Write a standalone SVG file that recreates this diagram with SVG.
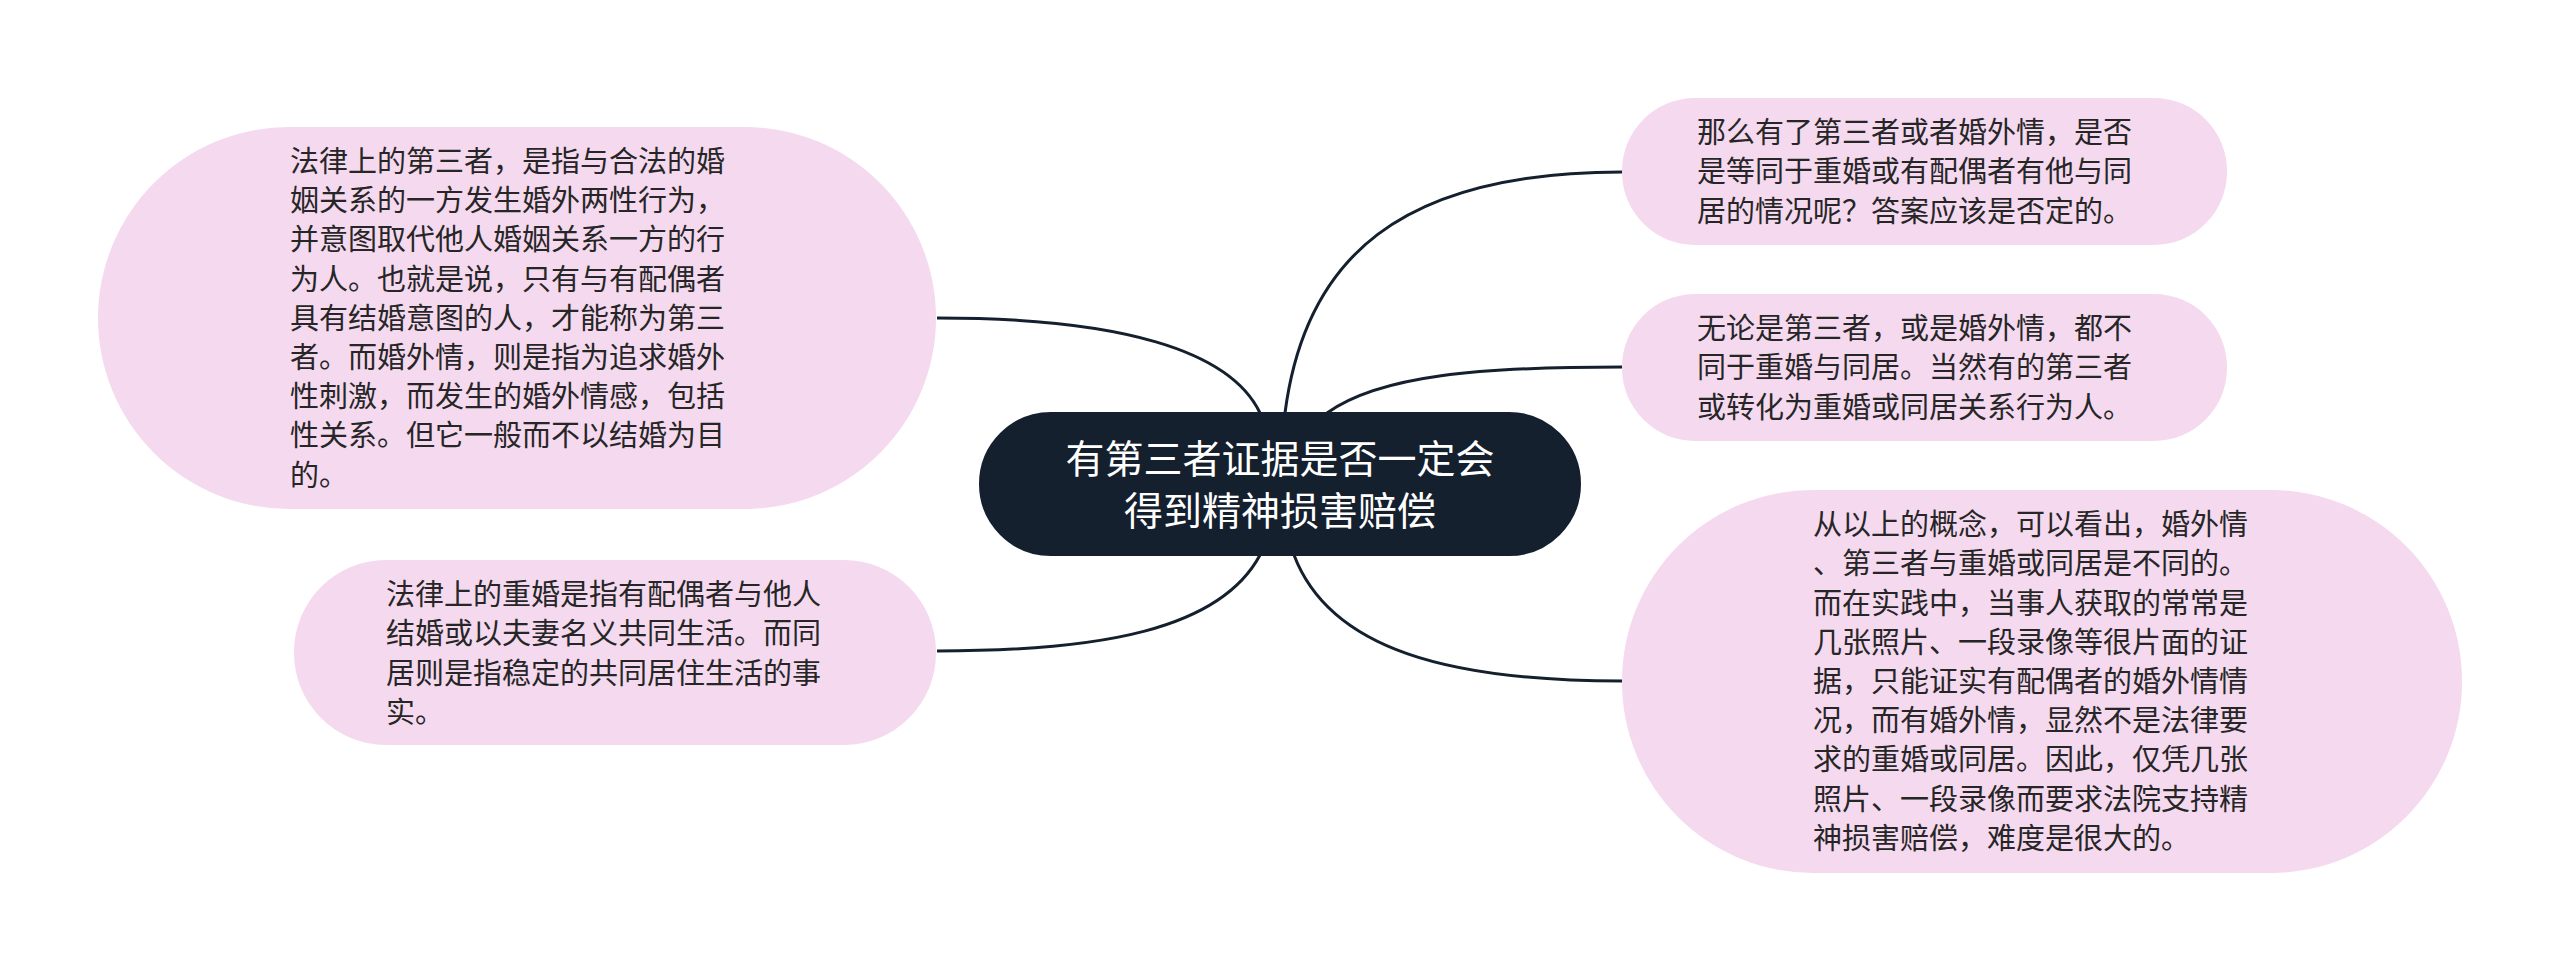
<svg xmlns="http://www.w3.org/2000/svg" width="2560" height="970" viewBox="0 0 2560 970">
<style>
.bg{fill:#ffffff}
.leaf rect{fill:#f5d9ef}
.leaf text{font-family:"Noto Sans CJK SC","Noto Sans",sans-serif;font-size:29px;fill:#262626}
.root rect{fill:#15202e;stroke:#15202e;stroke-width:2}
.root text{font-family:"Noto Sans CJK SC","Noto Sans",sans-serif;font-size:39px;fill:#ffffff;text-anchor:middle}
.conn path{fill:none;stroke:#15202e;stroke-width:3}
</style>
<rect class="bg" x="0" y="0" width="2560" height="970"/>
<g class="conn" id="connectors">
<path d="M1260,413 C1230,350 1120,318 937,318"/>
<path d="M1285,413 C1305,258 1400,172 1622,172"/>
<path d="M1327,413 C1380,375 1480,367 1622,367"/>
<path d="M1260,555 C1220,630 1100,651 937,651"/>
<path d="M1294,555 C1330,650 1450,681 1622,681"/>
</g>
<g class="root" id="root">
<rect x="980" y="413" width="600" height="142" rx="71" ry="71"/>
<text x="1280" y="473">有第三者证据是否一定会</text>
<text x="1280" y="525">得到精神损害赔偿</text>
</g>
<g class="leaf" id="node-tl">
<rect x="98" y="127" width="838" height="382" rx="191" ry="191"/>
<text x="290" y="172">法律上的第三者，是指与合法的婚</text>
<text x="290" y="211">姻关系的一方发生婚外两性行为，</text>
<text x="290" y="250">并意图取代他人婚姻关系一方的行</text>
<text x="290" y="290">为人。也就是说，只有与有配偶者</text>
<text x="290" y="329">具有结婚意图的人，才能称为第三</text>
<text x="290" y="368">者。而婚外情，则是指为追求婚外</text>
<text x="290" y="407">性刺激，而发生的婚外情感，包括</text>
<text x="290" y="446">性关系。但它一般而不以结婚为目</text>
<text x="290" y="486">的。</text>
</g>
<g class="leaf" id="node-bl">
<rect x="294" y="560" width="642" height="185" rx="92" ry="92"/>
<text x="386" y="605">法律上的重婚是指有配偶者与他人</text>
<text x="386" y="644">结婚或以夫妻名义共同生活。而同</text>
<text x="386" y="684">居则是指稳定的共同居住生活的事</text>
<text x="386" y="723">实。</text>
</g>
<g class="leaf" id="node-tr1">
<rect x="1622" y="98" width="605" height="147" rx="73" ry="73"/>
<text x="1697" y="143">那么有了第三者或者婚外情，是否</text>
<text x="1697" y="182">是等同于重婚或有配偶者有他与同</text>
<text x="1697" y="222">居的情况呢？答案应该是否定的。</text>
</g>
<g class="leaf" id="node-tr2">
<rect x="1622" y="294" width="605" height="147" rx="73" ry="73"/>
<text x="1697" y="339">无论是第三者，或是婚外情，都不</text>
<text x="1697" y="378">同于重婚与同居。当然有的第三者</text>
<text x="1697" y="418">或转化为重婚或同居关系行为人。</text>
</g>
<g class="leaf" id="node-tr3">
<rect x="1622" y="490" width="840" height="383" rx="191" ry="191"/>
<text x="1813" y="535">从以上的概念，可以看出，婚外情</text>
<text x="1813" y="574">、第三者与重婚或同居是不同的。</text>
<text x="1813" y="614">而在实践中，当事人获取的常常是</text>
<text x="1813" y="653">几张照片、一段录像等很片面的证</text>
<text x="1813" y="692">据，只能证实有配偶者的婚外情情</text>
<text x="1813" y="731">况，而有婚外情，显然不是法律要</text>
<text x="1813" y="770">求的重婚或同居。因此，仅凭几张</text>
<text x="1813" y="810">照片、一段录像而要求法院支持精</text>
<text x="1813" y="849">神损害赔偿，难度是很大的。</text>
</g>
</svg>
